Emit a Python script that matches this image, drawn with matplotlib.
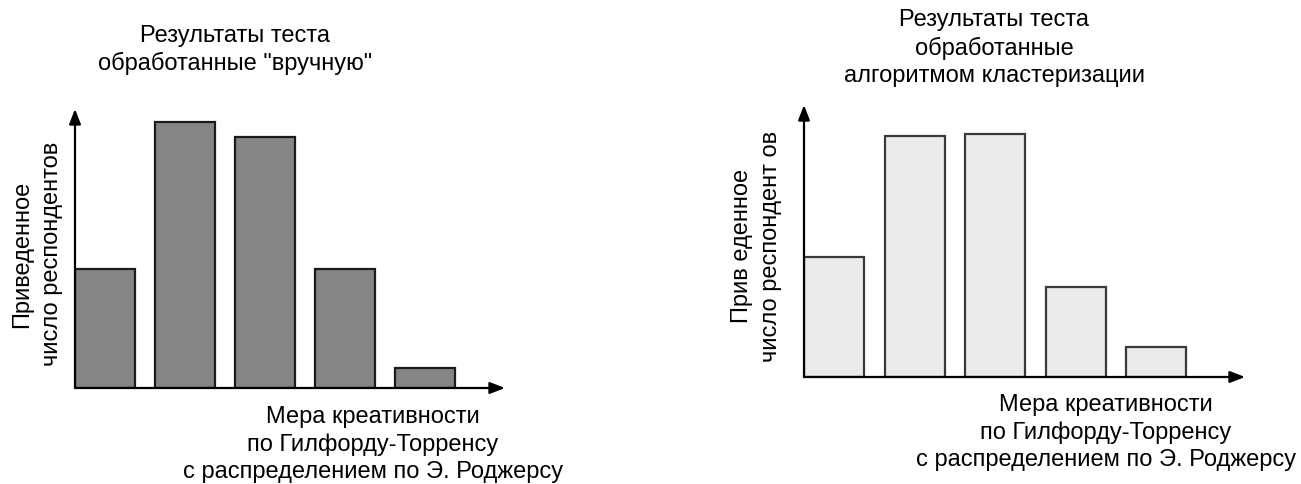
import matplotlib
matplotlib.use('Agg')
import matplotlib.pyplot as plt

plt.rcParams['font.family'] = ['Liberation Sans', 'DejaVu Sans']

# Data (reduced number of respondents)
manual_values = [4.47, 10.0, 9.44, 4.47, 0.75]
cluster_values = [4.5, 9.06, 9.13, 3.38, 1.13]

title_manual = ['Результаты теста', 'обработанные "вручную"']
title_cluster = ['Результаты теста', 'обработанные', 'алгоритмом кластеризации']
ylabel_manual = ['Приведенное', 'число респондентов']
ylabel_cluster = ['Прив еденное', 'число респондент ов']
xlabel_lines = ['Мера креативности', 'по Гилфорду-Торренсу', 'с распределением по Э. Роджерсу']

W, H = 1301, 485
fig = plt.figure(figsize=(W / 100, H / 100), dpi=100)
FS = 17


def px_axes(x0, y_base, w, h):
    return fig.add_axes([x0 / W, (H - y_base) / H, w / W, h / H])


def draw_panel(ax, values, xmax, ymax, face, edge):
    ax.bar(range(len(values)), values, width=0.75, align='edge',
           color=face, edgecolor=edge, linewidth=1.6, zorder=2)
    ax.set_xlim(0, xmax)
    ax.set_ylim(0, ymax)
    ax.axis('off')
    arrow = dict(arrowstyle='-|>,head_length=0.9,head_width=0.35', color='black',
                 lw=1.6, shrinkA=0, shrinkB=0)
    ax.annotate('', xy=(1, 0), xytext=(0, 0), xycoords='axes fraction', arrowprops=arrow)
    ax.annotate('', xy=(0, 1), xytext=(0, 0), xycoords='axes fraction', arrowprops=arrow)


def txt(x, y, s, **kw):
    fig.text(x / W, 1 - y / H, s, fontsize=FS, ha='center', va='center', **kw)


# left panel
ax1 = px_axes(75, 389, 430, 279)
draw_panel(ax1, manual_values, 430 / 80, 279 / 26.6, '#858585', '#1a1a1a')

# right panel
ax2 = px_axes(804, 378, 441, 272)
draw_panel(ax2, cluster_values, 441 / 80.5, 272 / 26.6, '#ebebeb', '#3a3a3a')

# titles
for s, y in zip(title_manual, [36, 63]):
    txt(235, y, s)
for s, y in zip(title_cluster, [20, 48, 76]):
    txt(994, y, s)

# y labels
for s, x in zip(ylabel_manual, [22, 52]):
    txt(x, 254, s, rotation=90)
for s, x in zip(ylabel_cluster, [742, 771]):
    txt(x, 246, s, rotation=90)

# x labels
for s, y in zip(xlabel_lines, [417, 445, 472]):
    txt(373, y, s)
for s, y in zip(xlabel_lines, [405, 433, 460]):
    txt(1106, y, s)

fig.savefig('out.png', dpi=100)
